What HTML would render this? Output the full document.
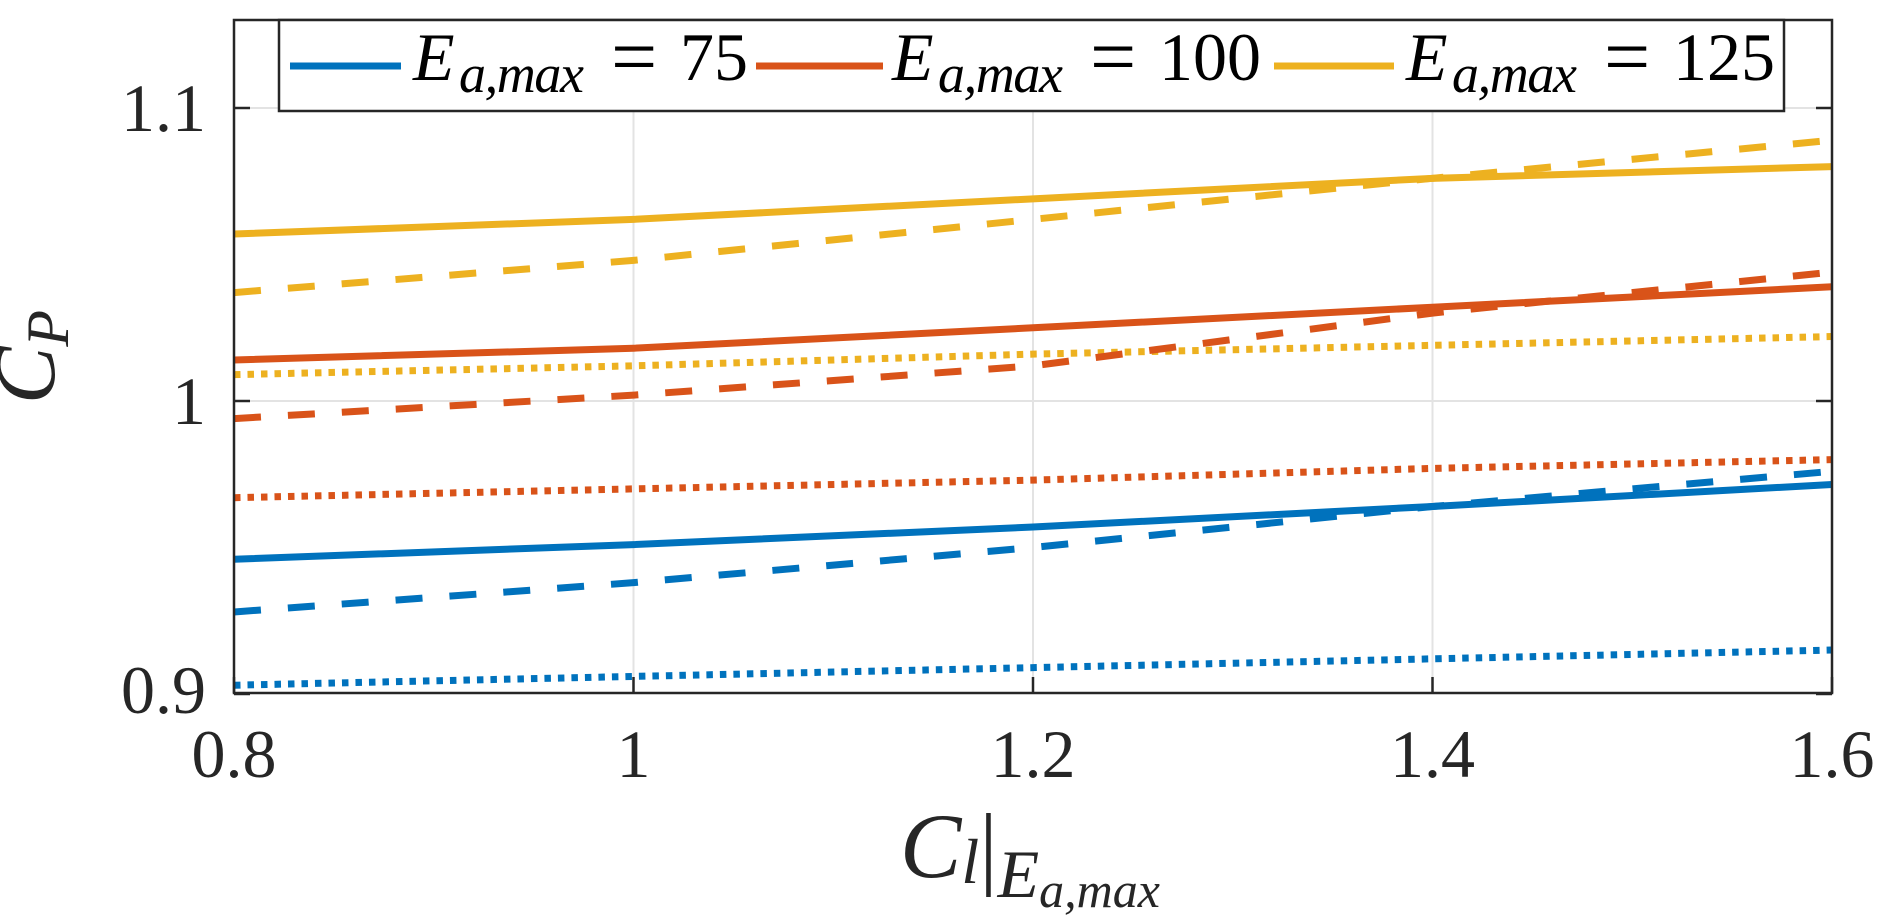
<!DOCTYPE html>
<html><head><meta charset="utf-8"><style>
html,body{margin:0;padding:0;background:#fff;}
svg{display:block;font-family:"Liberation Serif",serif;}
</style></head><body>
<svg id="chart" width="1892" height="924" viewBox="0 0 1892 924">
<defs><clipPath id="plotclip"><rect x="234" y="20" width="1598" height="673"/></clipPath></defs>
<rect x="234" y="20" width="1598" height="673" fill="#fff"/>
<g id="grid"></g>
<g id="series" clip-path="url(#plotclip)"></g>
<rect x="234" y="20" width="1598" height="673" fill="none" stroke="#262626" stroke-width="2.5"/>
<g id="ticks"></g>
<text x="54" y="357" font-size="86" font-style="italic" fill="#262626" text-anchor="middle" transform="rotate(-90 54 357)">C<tspan font-size="60" dy="14">P</tspan></text>
<text x="1030" y="877" font-size="92" font-style="italic" fill="#262626" text-anchor="middle">C<tspan font-size="64" dy="6">l</tspan><tspan font-style="normal" dy="-6">|</tspan><tspan font-size="68" dy="20">E</tspan><tspan font-size="50" dy="10">a,max</tspan></text>
<g>
<rect x="279" y="20" width="1505" height="91" fill="#fff" stroke="#262626" stroke-width="2.5"/>
<g id="legend"></g>
</g>
</svg>
<script>
const xTicks=[0.8,1,1.2,1.4,1.6];
const xTickLabels=["0.8","1","1.2","1.4","1.6"];
const yTicks=[0.9,1,1.1];
const yTickLabels=["0.9","1","1.1"];
const xs=[0.8,1.0,1.2,1.4,1.6];
const blueSolid=[0.946,0.951,0.957,0.964,0.9715];
const blueDashed=[0.928,0.938,0.950,0.964,0.976];
const blueDotted=[0.903,0.906,0.909,0.912,0.915];
const orangeSolid=[1.014,1.018,1.025,1.032,1.039];
const orangeDashed=[0.994,1.002,1.012,1.030,1.044];
const orangeDotted=[0.967,0.970,0.973,0.977,0.980];
const yellowSolid=[1.057,1.062,1.069,1.076,1.080];
const yellowDashed=[1.037,1.048,1.062,1.076,1.089];
const yellowDotted=[1.009,1.012,1.016,1.019,1.022];
const legendLabels=["75","100","125"];

const NS="http://www.w3.org/2000/svg";
const L=234,R=1832,T=20,B=693;
function X(v){return L+(v-0.8)/0.8*(R-L);}
function Y(v){return 401-(v-1)*2930;}
function mk(tag,attrs,parent){const e=document.createElementNS(NS,tag);for(const k in attrs)e.setAttribute(k,attrs[k]);parent.appendChild(e);return e;}
const grid=document.getElementById('grid'),ticks=document.getElementById('ticks'),ser=document.getElementById('series'),leg=document.getElementById('legend');
xTicks.forEach((t,i)=>{
  const x=X(t);
  if(i>0&&i<xTicks.length-1){const g=mk('line',{x1:x,x2:x,y1:T,y2:B,stroke:'#e3e3e3','stroke-width':2},grid);
  
  }
  const tk=mk('line',{x1:x,x2:x,y1:B,y2:B-16,stroke:'#262626','stroke-width':2.5},ticks);
  
  
  const tl=mk('text',{x:x,y:777,'font-size':68,fill:'#262626','text-anchor':'middle'},ticks);
  tl.textContent=xTickLabels[i];
  
  
});
yTicks.forEach((t,i)=>{
  const y=Y(t);
  if(i>0){const g=mk('line',{x1:L,x2:R,y1:y,y2:y,stroke:'#e3e3e3','stroke-width':2},grid);
  
  }
  const tk=mk('line',{x1:L,x2:L+16,y1:y,y2:y,stroke:'#262626','stroke-width':2.5},ticks);
  
  
  const tk2=mk('line',{x1:R,x2:R-16,y1:y,y2:y,stroke:'#262626','stroke-width':2.5},ticks);
  
  
  const ty=Math.min(y,690);
  const tl=mk('text',{x:206,y:ty+23,'font-size':68,fill:'#262626','text-anchor':'end'},ticks);
  tl.textContent=yTickLabels[i];
  
  
});
const colors={blue:'#0072BD',orange:'#D95319',yellow:'#EDB120'};
const dashes={solid:null,dashed:'27 27',dotted:'6.5 7'};
const series=[
 ['yellow','solid',yellowSolid],['yellow','dashed',yellowDashed],['yellow','dotted',yellowDotted],
 ['orange','solid',orangeSolid],['orange','dashed',orangeDashed],['orange','dotted',orangeDotted],
 ['blue','solid',blueSolid],['blue','dashed',blueDashed],['blue','dotted',blueDotted]];
series.forEach(s=>{
  const pts=xs.map((x,i)=>X(x)+','+Y(s[2][i])).join(' ');
  const a={points:pts,fill:'none',stroke:colors[s[0]],'stroke-width':7,'stroke-linejoin':'round'};
  if(dashes[s[1]])a['stroke-dasharray']=dashes[s[1]];
  const p=mk('polyline',a,ser);
  
  
});
const legX=[[290,401,413],[756,883,892],[1274,1394,1406]];
const legC=['blue','orange','yellow'];
legX.forEach((p,i)=>{
  const ln=mk('line',{x1:p[0],x2:p[1],y1:66,y2:66,stroke:colors[legC[i]],'stroke-width':7},leg);
  
  
  const t=mk('text',{x:p[2],y:80,'font-size':68,fill:'#000','font-style':'italic'},leg);
  t.textContent='E';
  
  
  const sb=mk('text',{x:p[2]+46,y:92,'font-size':54,fill:'#000','font-style':'italic',textLength:125,lengthAdjust:'spacing'},leg);
  sb.textContent='a,max';
  
  
  const eq=mk('text',{x:p[2]+198,y:84,'font-size':82,fill:'#000'},leg);
  eq.textContent='=';
  
  
  const n=mk('text',{x:p[2]+267,y:80,'font-size':68,fill:'#000'},leg);
  n.textContent=legendLabels[i];
  
  
});
</script>
</body></html>
